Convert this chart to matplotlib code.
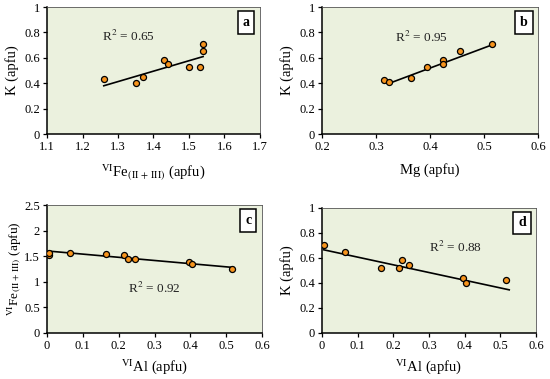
import matplotlib.pyplot as plt
import numpy as np

plt.rcParams.update({
    "font.family": "serif",
    "font.serif": ["Liberation Serif", "DejaVu Serif"],
    "mathtext.fontset": "stix",
    "font.size": 8,
})

BG = "#EBF1DE"
DOT = "#F7941D"

# panel a: VI Fe(II+III) vs K
fe_a = [1.26, 1.35, 1.37, 1.43, 1.44, 1.50, 1.53, 1.54, 1.54]
k_a = [0.43, 0.405, 0.45, 0.585, 0.55, 0.53, 0.53, 0.71, 0.655]

# panel b: Mg vs K
mg_b = [0.315, 0.325, 0.365, 0.395, 0.425, 0.425, 0.455, 0.515]
k_b = [0.425, 0.41, 0.445, 0.525, 0.585, 0.55, 0.655, 0.71]

# panel c: VI Al vs VI Fe(II+III)
al_c = [0.005, 0.005, 0.065, 0.165, 0.215, 0.225, 0.245, 0.395, 0.405, 0.515]
fe_c = [1.53, 1.56, 1.56, 1.54, 1.52, 1.44, 1.45, 1.38, 1.35, 1.26]

# panel d: VI Al vs K
al_d = [0.005, 0.065, 0.165, 0.215, 0.225, 0.245, 0.395, 0.405, 0.515]
k_d = [0.705, 0.65, 0.52, 0.52, 0.585, 0.54, 0.44, 0.40, 0.42]

# trend line end points (x0, y0, x1, y1)
line_a = [1.26, 0.38, 1.54, 0.61]
line_b = [0.325, 0.40, 0.52, 0.71]
line_c = [0.005, 1.60, 0.52, 1.28]
line_d = [0.005, 0.665, 0.525, 0.345]

fig = plt.figure(figsize=(5.5, 3.79), dpi=100)


def panel(rect, x, y, line, xlim, xticks, ylim, yticks, xlabel, ylabel, r2, r2pos, tag,
          xpad=7, ypad=4, ysize=10.5):
    ax = fig.add_axes(rect)
    ax.set_facecolor(BG)
    ax.plot([line[0], line[2]], [line[1], line[3]], color="black", lw=1.2, zorder=2)
    ax.scatter(x, y, s=19, color=DOT, edgecolors="black", linewidths=0.9, zorder=3)
    ax.set_xlim(*xlim)
    ax.set_ylim(*ylim)
    ax.set_xticks(xticks)
    ax.set_yticks(yticks)
    ax.set_xticklabels([f"{t:g}" for t in xticks])
    ax.set_yticklabels([f"{t:g}" for t in yticks])
    ax.tick_params(direction="out", length=3, width=0.9, labelsize=9, pad=2)
    for s in ("left", "bottom"):
        ax.spines[s].set_linewidth(1.1)
        ax.spines[s].set_color("black")
    for s in ("top", "right"):
        ax.spines[s].set_linewidth(0.6)
        ax.spines[s].set_color("#555555")
    ax.set_xlabel(xlabel, fontsize=10.5, labelpad=xpad)
    ax.set_ylabel(ylabel, fontsize=ysize, labelpad=ypad)
    ax.text(r2pos[0], r2pos[1], r2, fontsize=9.5, color="#222222", ha="center", va="center")
    ax.text(0.935, 0.88, tag, transform=ax.transAxes, fontsize=10, fontweight="bold",
            ha="center", va="center",
            bbox=dict(boxstyle="square,pad=0.35", fc="white", ec="black", lw=1.1))
    return ax


fe_lab = r"$^{\rm VI}$Fe$_{\rm (II\,+\,III)}$ (apfu)"
al_lab = r"$^{\rm VI}$Al (apfu)"

panel([0.0855, 0.6464, 0.387, 0.335], fe_a, k_a, line_a, (1.1, 1.7),
      [1.1, 1.2, 1.3, 1.4, 1.5, 1.6, 1.7], (0, 1), [0, 0.2, 0.4, 0.6, 0.8, 1],
      fe_lab, "K (apfu)", r"R$^2$ = 0.65", (1.33, 0.77), "a")
panel([0.5855, 0.6464, 0.3925, 0.335], mg_b, k_b, line_b, (0.2, 0.6),
      [0.2, 0.3, 0.4, 0.5, 0.6], (0, 1), [0, 0.2, 0.4, 0.6, 0.8, 1],
      "Mg (apfu)", "K (apfu)", r"R$^2$ = 0.95", (0.385, 0.76), "b")
panel([0.0855, 0.1214, 0.391, 0.3376], al_c, fe_c, line_c, (0, 0.6),
      [0, 0.1, 0.2, 0.3, 0.4, 0.5, 0.6], (0, 2.5), [0, 0.5, 1, 1.5, 2, 2.5],
      al_lab, fe_lab, r"R$^2$ = 0.92", (0.30, 0.88), "c",
      xpad=4, ypad=1, ysize=9.5)
panel([0.5855, 0.1214, 0.389, 0.33], al_d, k_d, line_d, (0, 0.6),
      [0, 0.1, 0.2, 0.3, 0.4, 0.5, 0.6], (0, 1), [0, 0.2, 0.4, 0.6, 0.8, 1],
      al_lab, "K (apfu)", r"R$^2$ = 0.88", (0.375, 0.68), "d", xpad=4)

fig.savefig("out.png", dpi=100)
